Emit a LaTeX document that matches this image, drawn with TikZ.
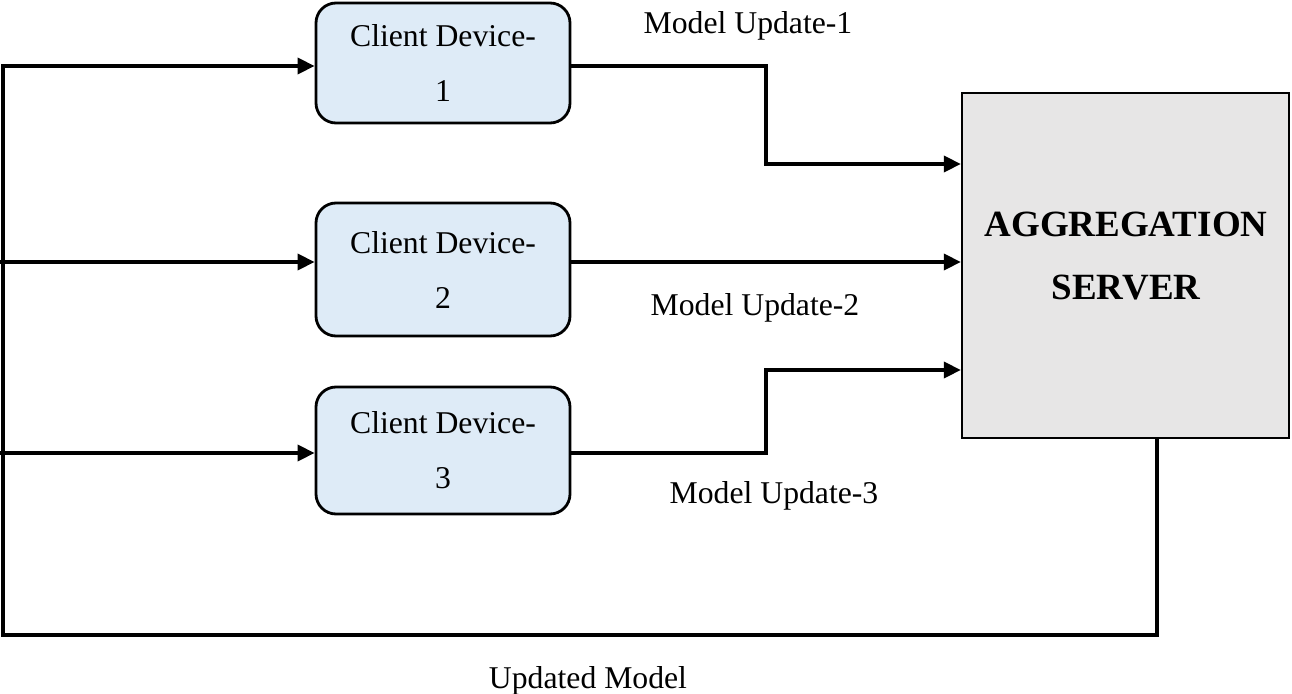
\documentclass[tikz,border=0pt]{standalone}
\usepackage{fontspec}
\setmainfont{Liberation Serif}
\usetikzlibrary{arrows.meta,calc}
\definecolor{clientfill}{HTML}{DEEBF7}
\definecolor{serverfill}{HTML}{E7E6E6}
\begin{document}
\begin{tikzpicture}[x=1pt,y=-1pt,
  client/.style={draw=black, line width=2.8pt, fill=clientfill, rounded corners=20pt,
    minimum width=254pt, inner sep=0pt, align=center,
    font=\fontsize{31.7}{55}\selectfont},
  server/.style={draw=black, line width=2.3pt, fill=serverfill,
    minimum width=327pt, minimum height=345pt, inner sep=0pt},
  lbl/.style={font=\fontsize{31.7}{38}\selectfont, anchor=base, inner sep=0pt},
  flow/.style={line width=3.6pt, -{Triangle[length=17pt,width=16pt]}}]
\useasboundingbox (0,0) rectangle (1292,693);

% client devices
\node[client, minimum height=120pt] (c1) at (443,63)    {Client Device-\\1};
\node[client, minimum height=133pt] (c2) at (443,269.5) {Client Device-\\2};
\node[client, minimum height=127pt] (c3) at (443,450.5) {Client Device-\\3};

% aggregation server
\node[server] (srv) at (1125.5,265.5) {};
\node[font=\bfseries\fontsize{37}{63}\selectfont, align=center, inner sep=0pt]
  (srvtxt) at (1126,256) {AGGREGATION\\SERVER};

% routing points
\coordinate (fbTop) at (3,66);
\coordinate (fbBot) at (3,635);
\coordinate (fbRight) at (1157,635);
\coordinate (br2) at (0,262);
\coordinate (br3) at (0,453);
\coordinate (j1) at (766,66);
\coordinate (k1) at (766,164);
\coordinate (j3) at (766,453);
\coordinate (k3) at (766,370);

% updated model fed back to every client
\draw[flow] (srv.south -| fbRight) -- (fbRight) -- (fbBot) -- (fbTop) -- (fbTop -| c1.west);
\draw[flow] (br2) -- (br2 -| c2.west);
\draw[flow] (br3) -- (br3 -| c3.west);

% model updates sent to the server
\draw[flow] (c1.east |- j1) -- (j1) -- (k1) -- (k1 -| srv.west);
\draw[flow] (br2 -| c2.east) -- (br2 -| srv.west);
\draw[flow] (c3.east |- j3) -- (j3) -- (k3) -- (k3 -| srv.west);

% labels
\node[lbl] (mu1) at (748,34)  {Model Update-1};
\node[lbl] (mu2) at (755,315) {Model Update-2};
\node[lbl] (mu3) at (774,503) {Model Update-3};
\node[lbl] (upd) at (588,688) {Updated Model};
\end{tikzpicture}
\end{document}
